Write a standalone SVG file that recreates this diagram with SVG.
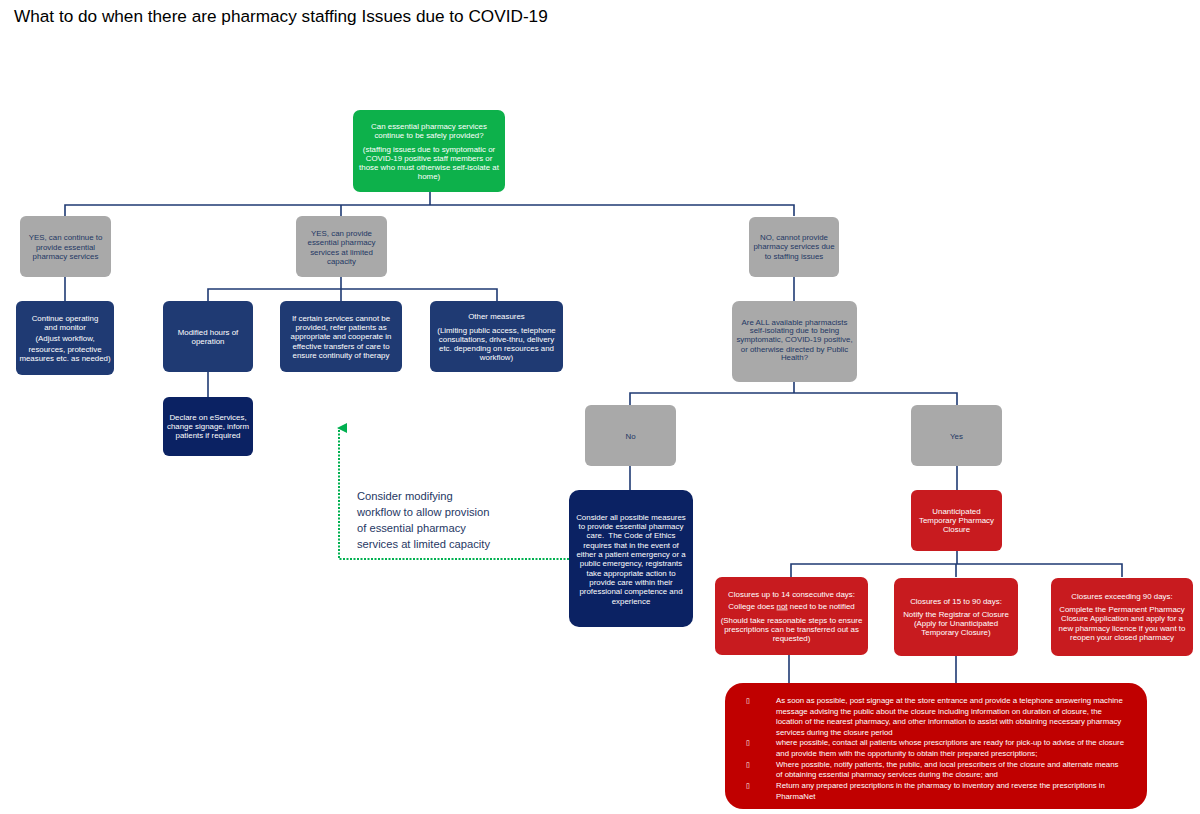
<svg xmlns="http://www.w3.org/2000/svg" width="1200" height="814" viewBox="0 0 1200 814">
<style>
text{font-family:"Liberation Sans",Arial,sans-serif;font-size:7.9px;text-anchor:middle}
.w{fill:#ffffff}
.n{fill:#1f3864}
.title{font-size:17.2px;text-anchor:start;fill:#000}
.note{font-size:11.2px;text-anchor:start;fill:#1f3864}
.bl{text-anchor:start;fill:#ffffff;font-size:7.8px}
.bu{font-family:"DejaVu Sans",sans-serif;text-anchor:start;fill:#ffffff;font-size:7px}
.gray{fill:#a9a9a9}
.blue{fill:#1f3a73}
.dark{fill:#0b2263}
.red{fill:#c81b1f}
.green{fill:#0db14b}
.con{fill:none;stroke:#1f3a73;stroke-width:1.6}
</style>
<defs>
<marker id="ga" markerWidth="10" markerHeight="10" refX="5" refY="2" orient="auto" markerUnits="userSpaceOnUse" viewBox="0 0 10 10">
<path d="M0,10 L5,0 L10,10 Z" fill="#00b050"/>
</marker>
</defs>
<rect width="1200" height="814" fill="#ffffff"/>
<text class="title" x="14" y="22">What to do when there are pharmacy staffing Issues due to COVID-19</text>

<g id="connectors">
<path class="con" d="M430,192 V205 M65,216 V205 H794 V216 M341,205 V216"/>
<path class="con" d="M65,277 V301"/>
<path class="con" d="M341,277 V289 M208,301 V289 H497 V301 M341,289 V301"/>
<path class="con" d="M208,372 V397"/>
<path class="con" d="M794,277 V301"/>
<path class="con" d="M794,382 V393 M630,405 V393 H957 V405"/>
<path class="con" d="M630,466 V490"/>
<path class="con" d="M957,466 V490"/>
<path class="con" d="M957,551 V564 M791,577 V564 H1122 V577 M956,564 V577"/>
<path class="con" d="M789,655 V683 M956,656 V683"/>
<path d="M569,559 H339 V428" fill="none" stroke="#00b050" stroke-width="2" stroke-dasharray="2,1.5" marker-end="url(#ga)"/>
</g>

<g id="n-root">
<rect class="green" x="353" y="110" width="152" height="82" rx="7"/>
<text class="w" x="429" y="129">Can essential pharmacy services</text>
<text class="w" x="429" y="137.5">continue to be safely provided?</text>
<text class="w" x="429" y="152">(staffing issues due to symptomatic or</text>
<text class="w" x="429" y="160.5">COVID-19 positive staff members or</text>
<text class="w" x="429" y="169.5">those who must otherwise self-isolate at</text>
<text class="w" x="429" y="178.5">home)</text>
</g>

<g id="n-yes-continue">
<rect class="gray" x="20" y="216" width="91" height="61" rx="6"/>
<text class="n" x="65.5" y="240">YES, can continue to</text>
<text class="n" x="65.5" y="249.5">provide essential</text>
<text class="n" x="65.5" y="259">pharmacy services</text>
</g>

<g id="n-yes-limited">
<rect class="gray" x="296" y="216" width="91" height="61" rx="6"/>
<text class="n" x="341.5" y="236">YES, can provide</text>
<text class="n" x="341.5" y="245">essential pharmacy</text>
<text class="n" x="341.5" y="254.5">services at limited</text>
<text class="n" x="341.5" y="264">capacity</text>
</g>

<g id="n-no-cannot">
<rect class="gray" x="749" y="217" width="90" height="60" rx="6"/>
<text class="n" x="794" y="240">NO, cannot provide</text>
<text class="n" x="794" y="249">pharmacy services due</text>
<text class="n" x="794" y="258.5">to staffing issues</text>
</g>

<g id="n-continue-operating">
<rect class="blue" x="16" y="301" width="98" height="74" rx="6"/>
<text class="w" x="65" y="320.5">Continue operating</text>
<text class="w" x="65" y="329.5">and monitor</text>
<text class="w" x="65" y="341">(Adjust workflow,</text>
<text class="w" x="65" y="351.5">resources, protective</text>
<text class="w" x="65" y="360.5">measures etc. as needed)</text>
</g>

<g id="n-modified-hours">
<rect class="blue" x="163" y="301" width="90" height="71" rx="6"/>
<text class="w" x="208" y="334.5">Modified hours of</text>
<text class="w" x="208" y="343.5">operation</text>
</g>

<g id="n-refer-patients">
<rect class="blue" x="280" y="301" width="122" height="71" rx="6"/>
<text class="w" x="341" y="320.5">If certain services cannot be</text>
<text class="w" x="341" y="329.5">provided, refer patients as</text>
<text class="w" x="341" y="339">appropriate and cooperate in</text>
<text class="w" x="341" y="348.5">effective transfers of care to</text>
<text class="w" x="341" y="357.5">ensure continuity of therapy</text>
</g>

<g id="n-other-measures">
<rect class="blue" x="430" y="301" width="133" height="71" rx="6"/>
<text class="w" x="496.5" y="318.5">Other measures</text>
<text class="w" x="496.5" y="332.5">(Limiting public access, telephone</text>
<text class="w" x="496.5" y="341.5">consultations, drive-thru, delivery</text>
<text class="w" x="496.5" y="350.5">etc. depending on resources and</text>
<text class="w" x="496.5" y="360">workflow)</text>
</g>

<g id="n-declare">
<rect class="dark" x="163" y="397" width="90" height="59" rx="6"/>
<text class="w" x="208" y="419.5">Declare on eServices,</text>
<text class="w" x="208" y="428.5">change signage, inform</text>
<text class="w" x="208" y="437.5">patients if required</text>
</g>

<g id="n-are-all">
<rect class="gray" x="732" y="301" width="125" height="81" rx="7"/>
<text class="n" x="794.5" y="324.5">Are ALL available pharmacists</text>
<text class="n" x="794.5" y="333">self-isolating due to being</text>
<text class="n" x="794.5" y="342">symptomatic, COVID-19 positive,</text>
<text class="n" x="794.5" y="351.5">or otherwise directed by Public</text>
<text class="n" x="794.5" y="360">Health?</text>
</g>

<g id="n-no">
<rect class="gray" x="585" y="405" width="91" height="61" rx="6"/>
<text class="n" x="630.5" y="438.5">No</text>
</g>

<g id="n-yes">
<rect class="gray" x="911" y="405" width="91" height="61" rx="6"/>
<text class="n" x="956.5" y="438.5">Yes</text>
</g>

<g id="n-note">
<text class="note" x="357" y="500">Consider modifying</text>
<text class="note" x="357" y="516">workflow to allow provision</text>
<text class="note" x="357" y="532">of essential pharmacy</text>
<text class="note" x="357" y="548">services at limited capacity</text>
</g>

<g id="n-consider-all">
<rect class="dark" x="569" y="490" width="124" height="137" rx="10"/>
<text class="w" x="631" y="519.5">Consider all possible measures</text>
<text class="w" x="631" y="528.5">to provide essential pharmacy</text>
<text class="w" x="631" y="537.5" xml:space="preserve">care.  The Code of Ethics</text>
<text class="w" x="631" y="547.5">requires that in the event of</text>
<text class="w" x="631" y="556.5">either a patient emergency or a</text>
<text class="w" x="631" y="566">public emergency, registrants</text>
<text class="w" x="631" y="575.5">take appropriate action to</text>
<text class="w" x="631" y="584.5">provide care within their</text>
<text class="w" x="631" y="594">professional competence and</text>
<text class="w" x="631" y="603.5">experience</text>
</g>

<g id="n-unanticipated">
<rect class="red" x="911" y="490" width="91" height="61" rx="6"/>
<text class="w" x="956.5" y="513.5">Unanticipated</text>
<text class="w" x="956.5" y="522.5">Temporary Pharmacy</text>
<text class="w" x="956.5" y="532">Closure</text>
</g>

<g id="n-closure-14">
<rect class="red" x="715" y="577" width="153" height="78" rx="7"/>
<text class="w" x="791.5" y="596.5">Closures up to 14 consecutive days:</text>
<text class="w" x="791.5" y="608.5">College does <tspan text-decoration="underline">not</tspan> need to be notified</text>
<text class="w" x="791.5" y="622.5">(Should take reasonable steps to ensure</text>
<text class="w" x="791.5" y="631.5">prescriptions can be transferred out as</text>
<text class="w" x="791.5" y="641">requested)</text>
</g>

<g id="n-closure-15-90">
<rect class="red" x="894" y="578" width="124" height="78" rx="7"/>
<text class="w" x="956" y="603.5">Closures of 15 to 90 days:</text>
<text class="w" x="956" y="616.5">Notify the Registrar of Closure</text>
<text class="w" x="956" y="625.5">(Apply for Unanticipated</text>
<text class="w" x="956" y="635">Temporary Closure)</text>
</g>

<g id="n-closure-90">
<rect class="red" x="1051" y="578" width="142" height="78" rx="7"/>
<text class="w" x="1122" y="598.5">Closures exceeding 90 days:</text>
<text class="w" x="1122" y="611.5">Complete the Permanent Pharmacy</text>
<text class="w" x="1122" y="621">Closure Application and apply for a</text>
<text class="w" x="1122" y="630.5">new pharmacy licence if you want to</text>
<text class="w" x="1122" y="639.5">reopen your closed pharmacy</text>
</g>

<g id="n-closure-steps">
<rect x="725" y="683" width="422" height="126" rx="18" fill="#c00000"/>
<text class="bu" x="746" y="702.5">▯</text>
<text class="bl" x="776" y="702.5">As soon as possible, post signage at the store entrance and provide a telephone answering machine</text>
<text class="bl" x="776" y="713.5">message advising the public about the closure including information on duration of closure, the</text>
<text class="bl" x="776" y="723.5">location of the nearest pharmacy, and other information to assist with obtaining necessary pharmacy</text>
<text class="bl" x="776" y="734.5">services during the closure period</text>
<text class="bu" x="746" y="744.5">▯</text>
<text class="bl" x="776" y="744.5">where possible, contact all patients whose prescriptions are ready for pick-up to advise of the closure</text>
<text class="bl" x="776" y="756">and provide them with the opportunity to obtain their prepared prescriptions;</text>
<text class="bu" x="746" y="766.5">▯</text>
<text class="bl" x="776" y="766.5">Where possible, notify patients, the public, and local prescribers of the closure and alternate means</text>
<text class="bl" x="776" y="776.5">of obtaining essential pharmacy services during the closure; and</text>
<text class="bu" x="746" y="787.5">▯</text>
<text class="bl" x="776" y="787.5">Return any prepared prescriptions in the pharmacy to inventory and reverse the prescriptions in</text>
<text class="bl" x="776" y="798.5">PharmaNet</text>
</g>
</svg>
